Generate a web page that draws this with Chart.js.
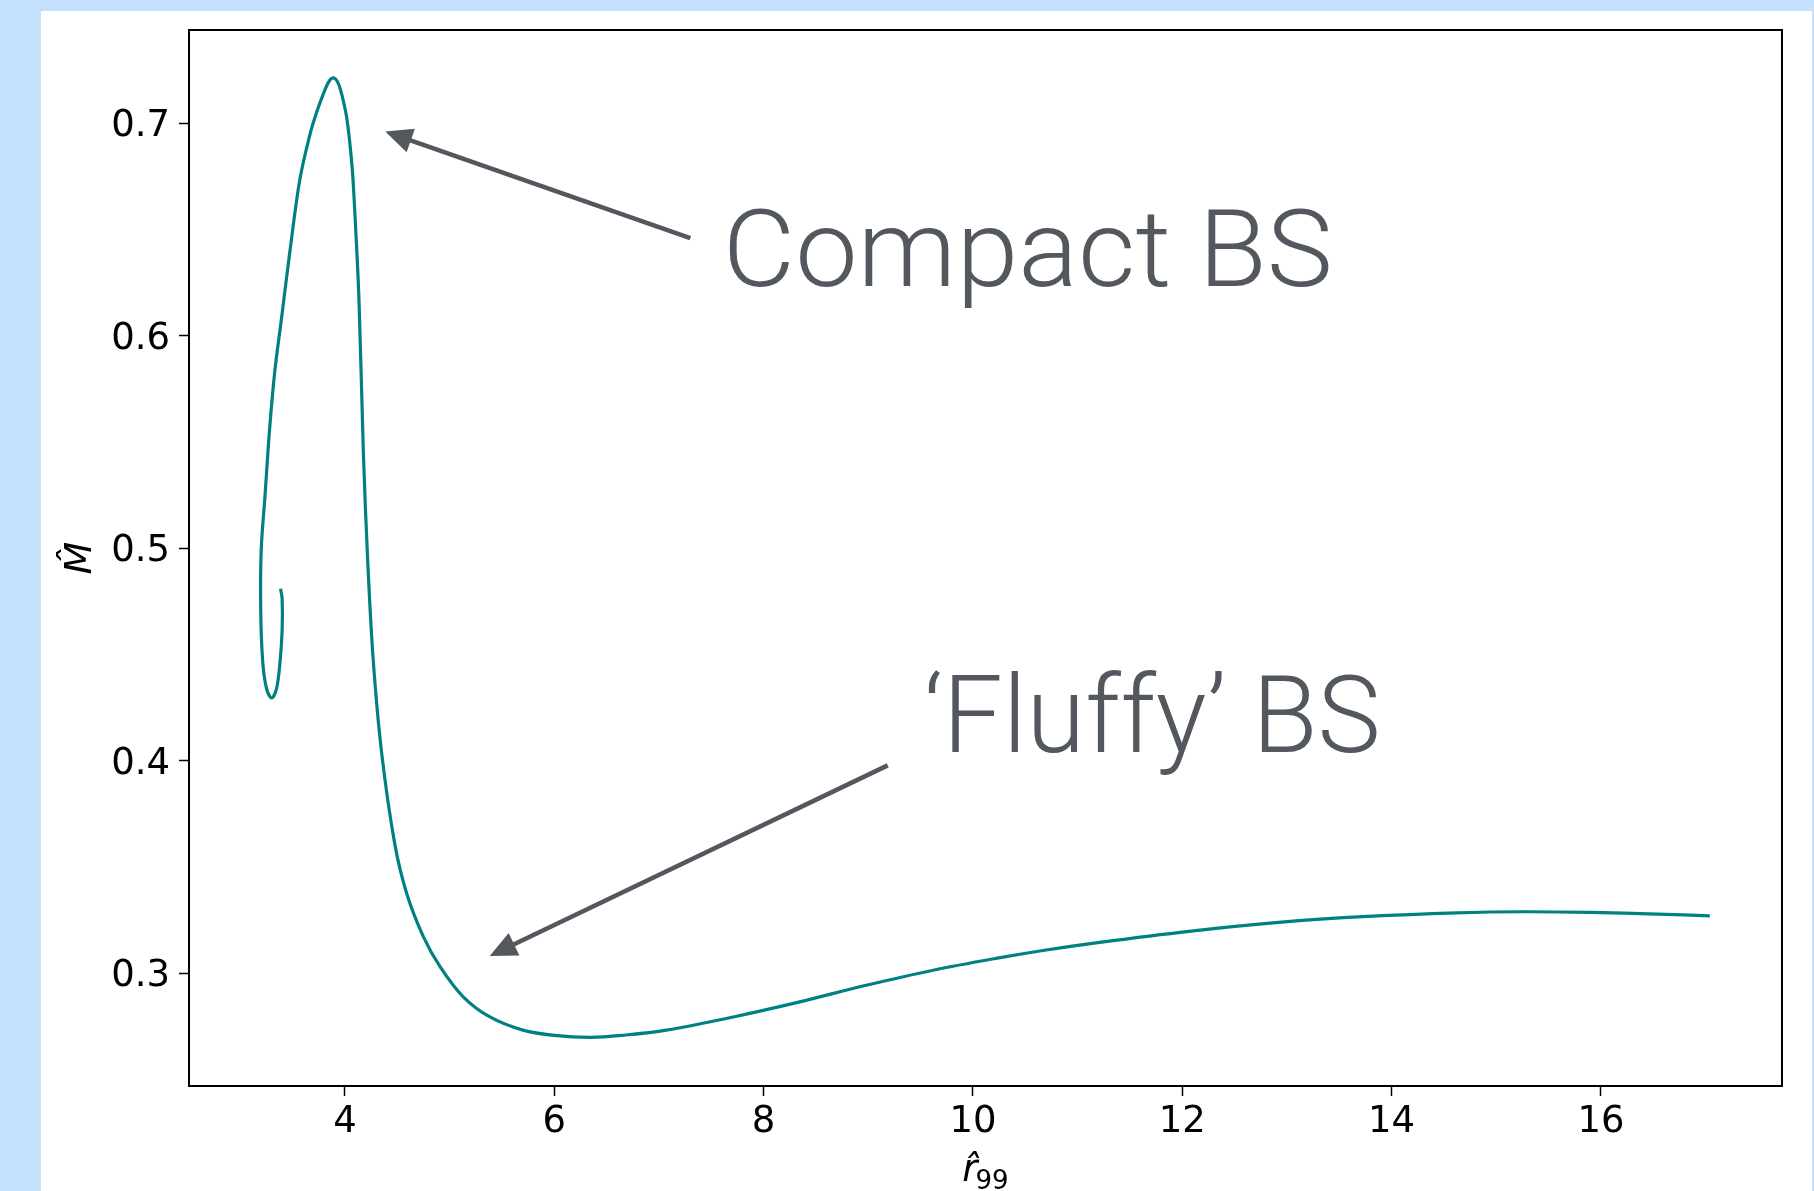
<!DOCTYPE html>
<html>
<head>
<meta charset="utf-8">
<script src="https://cdn.jsdelivr.net/npm/chart.js@4.4.1/dist/chart.umd.min.js"></script>
<style>
  html, body { margin: 0; padding: 0; background: rgb(197, 224, 252); overflow: hidden; }
  #wrap { position: absolute; left: 41px; top: 11px; width: 1771px; height: 1180px; background: #fff; }
</style>
</head>
<body>
<div id="wrap"><canvas id="chart"></canvas></div>
<script>
// r99 (x) and M (y) along the boson star branch
const rHat = [3.385, 3.40, 3.40, 3.38, 3.347, 3.30, 3.25, 3.214, 3.195, 3.20, 3.236, 3.28, 3.33, 3.395,
  3.475, 3.57, 3.666, 3.73, 3.79, 3.845, 3.885, 3.925, 3.96, 4.016, 4.064, 4.086, 4.134, 4.175, 4.217, 4.27,
  4.35, 4.475, 4.59, 4.75, 4.91, 5.13, 5.385, 5.70, 6.0, 6.35, 6.66, 7.07, 7.71, 8.345, 8.98,
  9.62, 10.26, 10.7, 11.21, 12.065, 12.92, 13.77, 14.62, 15.26, 15.90, 16.54, 17.04];
const mHat = [0.481, 0.4762, 0.4615, 0.4468, 0.4342, 0.4296, 0.4342, 0.4468, 0.472, 0.4993, 0.5246, 0.5561, 0.5835, 0.6087,
  0.6402, 0.6739, 0.6949, 0.7054, 0.7135, 0.7196, 0.7215, 0.7200, 0.7155, 0.703, 0.682, 0.666, 0.617, 0.5465, 0.4946, 0.4475,
  0.4040, 0.3612, 0.3376, 0.3172, 0.3031, 0.2890, 0.2795, 0.2733, 0.2708, 0.2699, 0.2709, 0.2733, 0.2795, 0.2866, 0.2944,
  0.3015, 0.3074, 0.3110, 0.3146, 0.3198, 0.3240, 0.3268, 0.3285, 0.3290, 0.3287, 0.3279, 0.3271];

const xTicks = [4, 6, 8, 10, 12, 14, 16];
const yTicks = [0.3, 0.4, 0.5, 0.6, 0.7];

// annotations: label text, text anchor, arrow tail and tip (data units)
const labels = ['Compact BS', '\u2018Fluffy\u2019 BS'];
const labelAt = [[7.61, 0.6237], [9.53, 0.404]];
const arrowFrom = [[7.30, 0.646], [9.186, 0.3979]];
const arrowTo = [[4.385, 0.6962], [5.383, 0.3082]];

const points = rHat.map((r, i) => ({x: r, y: mHat[i]}));

const annotate = {
    id: 'annotate',
    afterDraw(chart) {
        const ctx = chart.ctx;
        const xs = chart.scales.x, ys = chart.scales.y;
        const area = chart.chartArea;
        ctx.save();
        // full box round the axes
        ctx.strokeStyle = '#000';
        ctx.lineWidth = 2;
        ctx.strokeRect(area.left, area.top, area.right - area.left, area.bottom - area.top);

        // axis titles: italic r with hat and upright subscript 99, M with hat
        ctx.fillStyle = '#000';
        ctx.textBaseline = 'alphabetic';
        const cx = (area.left + area.right) / 2;
        ctx.font = 'italic 37px "DejaVu Sans", sans-serif';
        ctx.textAlign = 'right';
        ctx.fillText('r\u0302', cx - 8, area.bottom + 95);
        ctx.font = '26px "DejaVu Sans", sans-serif';
        ctx.textAlign = 'left';
        ctx.fillText('99', cx - 10, area.bottom + 103);
        ctx.save();
        ctx.translate(area.left - 98, (area.top + area.bottom) / 2);
        ctx.rotate(-Math.PI / 2);
        ctx.font = 'italic 38px "DejaVu Sans", sans-serif';
        ctx.textAlign = 'center';
        ctx.fillText('M\u0302', 0, 0);
        ctx.restore();

        const grey = '#53585f';
        const widths = [610, 457];
        for (let i = 0; i < labels.length; i++) {
            const x0 = xs.getPixelForValue(arrowFrom[i][0]), y0 = ys.getPixelForValue(arrowFrom[i][1]);
            const x1 = xs.getPixelForValue(arrowTo[i][0]), y1 = ys.getPixelForValue(arrowTo[i][1]);
            const ang = Math.atan2(y1 - y0, x1 - x0);
            const headLen = 27, headHalf = 12.5;
            const bx = x1 - headLen * Math.cos(ang), by = y1 - headLen * Math.sin(ang);
            ctx.strokeStyle = grey;
            ctx.fillStyle = grey;
            ctx.lineWidth = 4.5;
            ctx.beginPath();
            ctx.moveTo(x0, y0);
            ctx.lineTo(bx + 4 * Math.cos(ang), by + 4 * Math.sin(ang));
            ctx.stroke();
            ctx.beginPath();
            ctx.moveTo(x1, y1);
            ctx.lineTo(bx - headHalf * Math.sin(ang), by + headHalf * Math.cos(ang));
            ctx.lineTo(bx + headHalf * Math.sin(ang), by - headHalf * Math.cos(ang));
            ctx.closePath();
            ctx.fill();

            // label, squeezed to the width seen in the picture
            const tx = xs.getPixelForValue(labelAt[i][0]), ty = ys.getPixelForValue(labelAt[i][1]);
            ctx.font = '300 108px Roboto, "Liberation Sans", sans-serif';
            ctx.textBaseline = 'alphabetic';
            ctx.textAlign = 'left';
            const w = ctx.measureText(labels[i]).width;
            ctx.save();
            ctx.translate(tx, ty);
            ctx.scale(widths[i] / w, 1);
            ctx.fillText(labels[i], 0, 0);
            ctx.restore();
        }
        ctx.restore();
    }
};

const tickFont = {family: '"DejaVu Sans", sans-serif', size: 37};

new Chart(document.getElementById('chart'), {
    type: 'scatter',
    data: {
        datasets: [{
            data: points,
            showLine: true,
            borderColor: '#008080',
            borderWidth: 3.2,
            pointRadius: 0,
            tension: 0.35,
            fill: false
        }]
    },
    options: {
        responsive: true,
        maintainAspectRatio: false,
        animation: false,
        layout: {padding: {left: 0, top: 19, right: 30, bottom: 0}},
        plugins: {legend: {display: false}, tooltip: {enabled: false}},
        scales: {
            x: {
                type: 'linear',
                min: 2.51,
                max: 17.73,
                afterBuildTicks: (scale) => { scale.ticks = xTicks.map(v => ({value: v})); },
                afterFit: (scale) => { scale.height = 105; scale.paddingLeft = 0; scale.paddingRight = 0; },
                ticks: {color: '#000', font: tickFont, padding: 4, maxRotation: 0},
                grid: {drawOnChartArea: false, drawTicks: true, tickLength: 10, tickColor: '#000', tickWidth: 1.5},
                border: {display: true, color: '#000', width: 2}
            },
            y: {
                type: 'linear',
                min: 0.247,
                max: 0.744,
                afterBuildTicks: (scale) => { scale.ticks = yTicks.map(v => ({value: v})); },
                afterFit: (scale) => { scale.width = 148; scale.paddingTop = 0; scale.paddingBottom = 0; },
                ticks: {color: '#000', font: tickFont, padding: 9, labelOffset: 3, callback: (v) => v.toFixed(1)},
                grid: {drawOnChartArea: false, drawTicks: true, tickLength: 10, tickColor: '#000', tickWidth: 1.5},
                border: {display: true, color: '#000', width: 2}
            }
        }
    },
    plugins: [annotate]
});
</script>
</body>
</html>
